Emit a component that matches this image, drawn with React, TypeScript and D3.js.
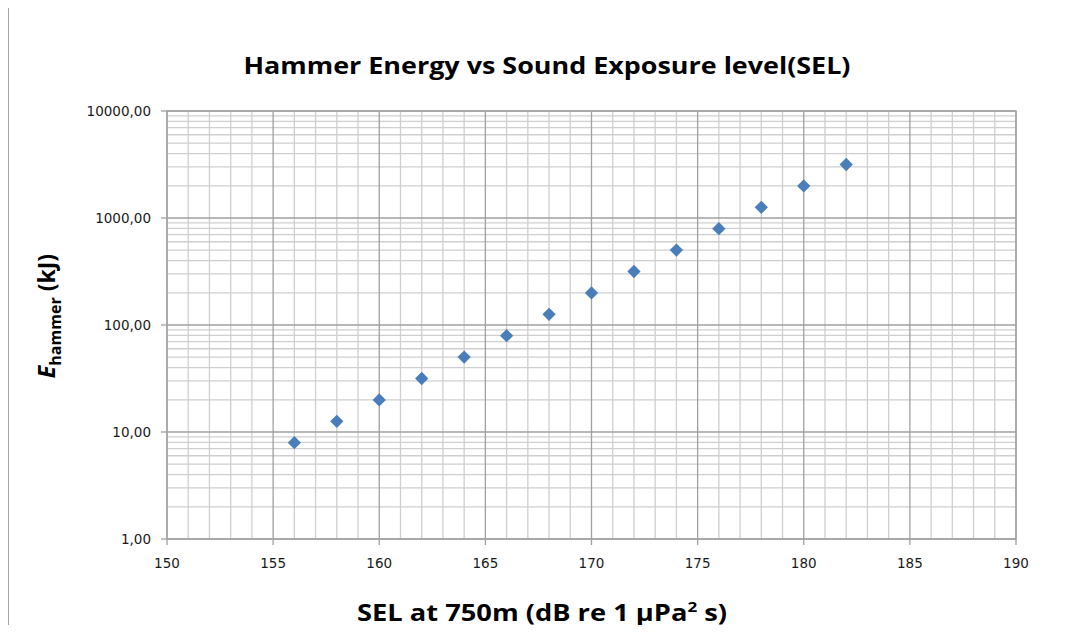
import React from "react";
import * as d3 from "d3";

const selValues = [156, 158, 160, 162, 164, 166, 168, 170, 172, 174, 176, 178, 180, 182];
const energyValues = [7.94, 12.59, 19.95, 31.62, 50.12, 79.43, 125.89, 199.53, 316.23, 501.19, 794.33, 1258.93, 1995.26, 3162.28];
const xTickValues = [150, 155, 160, 165, 170, 175, 180, 185, 190];
const yTickValues = [1, 10, 100, 1000, 10000];
const yTickLabels = ["1,00", "10,00", "100,00", "1000,00", "10000,00"];

const W = 1072;
const H = 633;
const left = 167;
const right = 1016;
const top = 111;
const bottom = 539;

export default function App() {
  const x = d3.scaleLinear().domain([150, 190]).range([left, right]);
  const y = d3.scaleLog().domain([1, 10000]).range([bottom, top]);

  const minorX = d3.range(151, 190).filter((v) => v % 5 !== 0);
  const minorY: number[] = [];
  for (let d = 0; d < 4; d++) {
    for (let m = 2; m <= 9; m++) minorY.push(m * Math.pow(10, d));
  }
  const diamond = d3.symbol().type(d3.symbolSquare).size(88)();
  const font = "'DejaVu Sans', Verdana, sans-serif";

  return (
    <div style={{ margin: -8 }}>
      <svg width={W} height={H} style={{ display: "block", background: "#fff" }}>
        <rect x={8} y={7} width={W + 20} height={H + 20} fill="#fff" stroke="#a3a3a3" strokeWidth={2} />
        <text
          x={547}
          y={74}
          textAnchor="middle"
          fontFamily="'Open Sans', sans-serif"
          fontWeight="bold"
          fontSize={24}
          textLength={607}
          lengthAdjust="spacingAndGlyphs"
        >
          Hammer Energy vs Sound Exposure level(SEL)
        </text>
        {minorY.map((v) => (
          <line key={"my" + v} x1={left} x2={right} y1={y(v)} y2={y(v)} stroke="#cfcfcf" strokeWidth={1.3} />
        ))}
        {minorX.map((v) => (
          <line key={"mx" + v} x1={x(v)} x2={x(v)} y1={top} y2={bottom} stroke="#cfcfcf" strokeWidth={1.3} />
        ))}
        {yTickValues.map((v) => (
          <line key={"gy" + v} x1={left} x2={right} y1={y(v)} y2={y(v)} stroke="#a0a0a0" strokeWidth={1.3} />
        ))}
        {xTickValues.map((v) => (
          <line key={"gx" + v} x1={x(v)} x2={x(v)} y1={top} y2={bottom} stroke="#a0a0a0" strokeWidth={1.3} />
        ))}
        <rect x={left} y={top} width={right - left} height={bottom - top} fill="none" stroke="#a0a0a0" strokeWidth={1.3} />
        {yTickValues.map((v, i) => (
          <g key={"ty" + v}>
            <line x1={left - 6} x2={left} y1={y(v)} y2={y(v)} stroke="#a0a0a0" strokeWidth={1.3} />
            <text x={151} y={y(v) + 4.5} textAnchor="end" fontFamily={font} fontSize={13.5} fill="#1a1a1a">
              {yTickLabels[i]}
            </text>
          </g>
        ))}
        {xTickValues.map((v) => (
          <g key={"tx" + v}>
            <line x1={x(v)} x2={x(v)} y1={bottom} y2={bottom + 6} stroke="#a0a0a0" strokeWidth={1.3} />
            <text x={x(v)} y={568} textAnchor="middle" fontFamily={font} fontSize={13.5} fill="#1a1a1a">
              {v}
            </text>
          </g>
        ))}
        {selValues.map((s, i) => (
          <path
            key={"p" + s}
            d={diamond || ""}
            transform={`translate(${x(s)},${y(energyValues[i])}) rotate(45)`}
            fill="#4a7ebb"
          />
        ))}
        <text
          x={542}
          y={621}
          textAnchor="middle"
          fontFamily="'Open Sans', sans-serif"
          fontWeight="bold"
          fontSize={24}
          textLength={370}
          lengthAdjust="spacingAndGlyphs"
        >
          SEL at 750m (dB re 1 μPa
          <tspan dy={-9} fontSize={15}>2</tspan>
          <tspan dy={9}> s)</tspan>
        </text>
        <text
          transform="translate(55,316) rotate(-90)"
          textAnchor="middle"
          fontFamily="'Open Sans', sans-serif"
          fontWeight="bold"
          fontSize={23}
        >
          <tspan fontStyle="italic">E</tspan>
          <tspan dy={6} fontSize={16}>hammer</tspan>
          <tspan dy={-6}> (kJ)</tspan>
        </text>
      </svg>
    </div>
  );
}
